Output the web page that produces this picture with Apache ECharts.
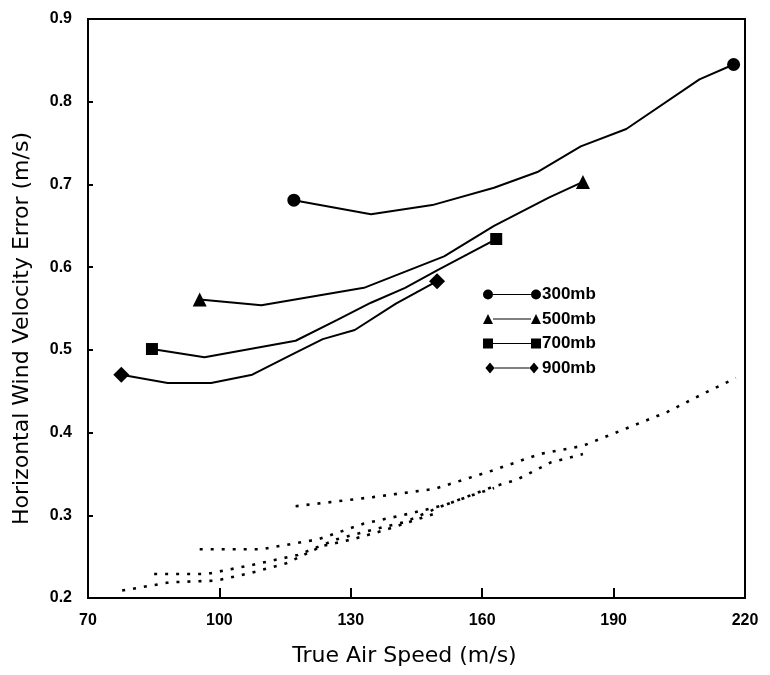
<!DOCTYPE html>
<html>
<head>
<meta charset="utf-8">
<script src="https://cdn.jsdelivr.net/npm/echarts@6/dist/echarts.min.js"></script>
<style>html,body{margin:0;padding:0;background:#fff}#c{width:770px;height:675px}</style>
</head>
<body>
<div id="c"></div>
<script>
// Solid lines (markers at ends)
const x300 = [117, 134.6, 148.6, 162.7, 172.6, 182.5, 192.9, 209.6, 217.4];
const y300 = [0.681, 0.664, 0.675, 0.696, 0.715, 0.746, 0.767, 0.827, 0.845];
const x500 = [95.5, 109.6, 133, 151.3, 162.7, 175.2, 183];
const y500 = [0.561, 0.554, 0.575, 0.613, 0.650, 0.684, 0.703];
const x700 = [84.6, 96.6, 107, 117.4, 126.8, 134.6, 142.4, 149.7, 156.5, 163.2];
const y700 = [0.501, 0.491, 0.501, 0.511, 0.536, 0.557, 0.575, 0.596, 0.615, 0.634];
const x900 = [77.6, 88.2, 98.1, 107.5, 116.4, 123.6, 130.9, 140.3, 149.7];
const y900 = [0.470, 0.460, 0.460, 0.470, 0.494, 0.513, 0.524, 0.556, 0.583];
// Dotted lines
const x300d = [117.4, 135.1, 149.2, 161.7, 173.1, 183, 192.9, 202.3, 210.1, 217.9];
const y300d = [0.311, 0.322, 0.332, 0.353, 0.374, 0.384, 0.405, 0.425, 0.446, 0.466];
const x500d = [95.5, 109.6, 122.6, 133, 143.4, 151.8, 162.2, 167.9, 175.7, 183];
const y500d = [0.259, 0.259, 0.271, 0.290, 0.302, 0.313, 0.334, 0.343, 0.364, 0.374];
const x700d = [85.1, 97.1, 107.5, 117.9, 126.8, 134.6, 142.4, 150.7, 157, 162.7];
const y700d = [0.229, 0.229, 0.240, 0.252, 0.271, 0.282, 0.292, 0.311, 0.323, 0.333];
const x900d = [77.8, 88.75, 99.2, 107, 115.3, 123.6, 130.4, 137.7, 143.4, 149.7];
const y900d = [0.209, 0.219, 0.221, 0.230, 0.242, 0.263, 0.271, 0.282, 0.292, 0.303];

const xTicks = [70, 100, 130, 160, 190, 220];
const yTicks = [0.2, 0.3, 0.4, 0.5, 0.6, 0.7, 0.8, 0.9];
const names = ['300mb', '500mb', '700mb', '900mb'];

function zip(xs, ys) { return xs.map((x, i) => [x, ys[i]]); }

const symbols = ['circle', 'triangle', 'rect', 'diamond'];
const symSizes = [13, 14, 12, 16];
const icons = [
  'path://M0 6A5 5 0 1 0 10 6A5 5 0 1 0 0 6ZM10 5.4L48 5.4L48 6.6L10 6.6ZM48 6A5 5 0 1 0 58 6A5 5 0 1 0 48 6Z',
  'path://M0 11L5 1L10 11ZM10 5.4L48 5.4L48 6.6L10 6.6ZM48 11L53 1L58 11Z',
  'path://M0 1L10 1L10 11L0 11ZM10 5.4L48 5.4L48 6.6L10 6.6ZM48 1L58 1L58 11L48 11Z',
  'path://M0 6L5 0L10 6L5 12ZM10 5.4L48 5.4L48 6.6L10 6.6ZM48 6L53 0L58 6L53 12Z'
];
const solid = [[x300, y300], [x500, y500], [x700, y700], [x900, y900]];
const dotted = [[x300d, y300d], [x500d, y500d], [x700d, y700d], [x900d, y900d]];

const series = [];
solid.forEach((s, k) => {
  const n = s[0].length;
  series.push({
    name: names[k], type: 'line', data: zip(s[0], s[1]),
    symbol: symbols[k], showAllSymbol: true,
    symbolSize: (v, p) => (p.dataIndex === 0 || p.dataIndex === n - 1) ? symSizes[k] : 0,
    lineStyle: { color: '#000', width: 2 }, itemStyle: { color: '#000' },
    silent: true, animation: false, z: 3
  });
});
dotted.forEach((s, k) => {
  series.push({
    name: names[k] + ' dotted', type: 'line', data: zip(s[0], s[1]),
    symbol: 'none',
    lineStyle: { color: '#000', width: 2.6, type: [3, 8] },
    silent: true, animation: false, z: 2
  });
});

const chart = echarts.init(document.getElementById('c'), null, { renderer: 'canvas' });
chart.setOption({
  animation: false,
  backgroundColor: '#fff',
  grid: { left: 88, right: 25, top: 19, bottom: 77, show: true, borderColor: '#000', borderWidth: 2 },
  legend: {
    data: names.map((n, k) => ({ name: n, icon: icons[k] })),
    orient: 'vertical', left: 478, top: 281,
    itemWidth: 58, itemHeight: 11, itemGap: 7.5,
    textStyle: { fontFamily: 'Liberation Sans', fontWeight: 'bold', fontSize: 17, color: '#000', padding: [0, 0, 0, -4] },
    itemStyle: { color: '#000' },
    selectedMode: false
  },
  xAxis: {
    type: 'value', min: xTicks[0], max: xTicks[xTicks.length - 1], interval: 30,
    name: 'True Air Speed (m/s)', nameLocation: 'middle', nameGap: 47,
    nameTextStyle: { fontFamily: 'DejaVu Sans', fontSize: 22, color: '#000', padding: [0, 24, 0, 0] },
    axisLine: { show: true, lineStyle: { color: '#000', width: 2 } },
    axisTick: { show: true, inside: true, length: 10, lineStyle: { color: '#000', width: 2 } },
    axisLabel: { fontFamily: 'Liberation Sans', fontWeight: 'bold', fontSize: 16, color: '#000', margin: 15 },
    splitLine: { show: false }
  },
  yAxis: {
    type: 'value', min: yTicks[0], max: yTicks[yTicks.length - 1], interval: 0.1,
    name: 'Horizontal Wind Velocity Error (m/s)', nameLocation: 'middle', nameGap: 55,
    nameTextStyle: { fontFamily: 'DejaVu Sans', fontSize: 22, color: '#000', padding: [0, 40, 0, 0] },
    axisLine: { show: true, lineStyle: { color: '#000', width: 2 } },
    axisTick: { show: true, inside: true, length: 5, lineStyle: { color: '#000', width: 2 } },
    axisLabel: { fontFamily: 'Liberation Sans', fontWeight: 'bold', fontSize: 16, color: '#000', margin: 16,
      formatter: v => v.toFixed(1) },
    splitLine: { show: false }
  },
  series: series
});
</script>
</body>
</html>
